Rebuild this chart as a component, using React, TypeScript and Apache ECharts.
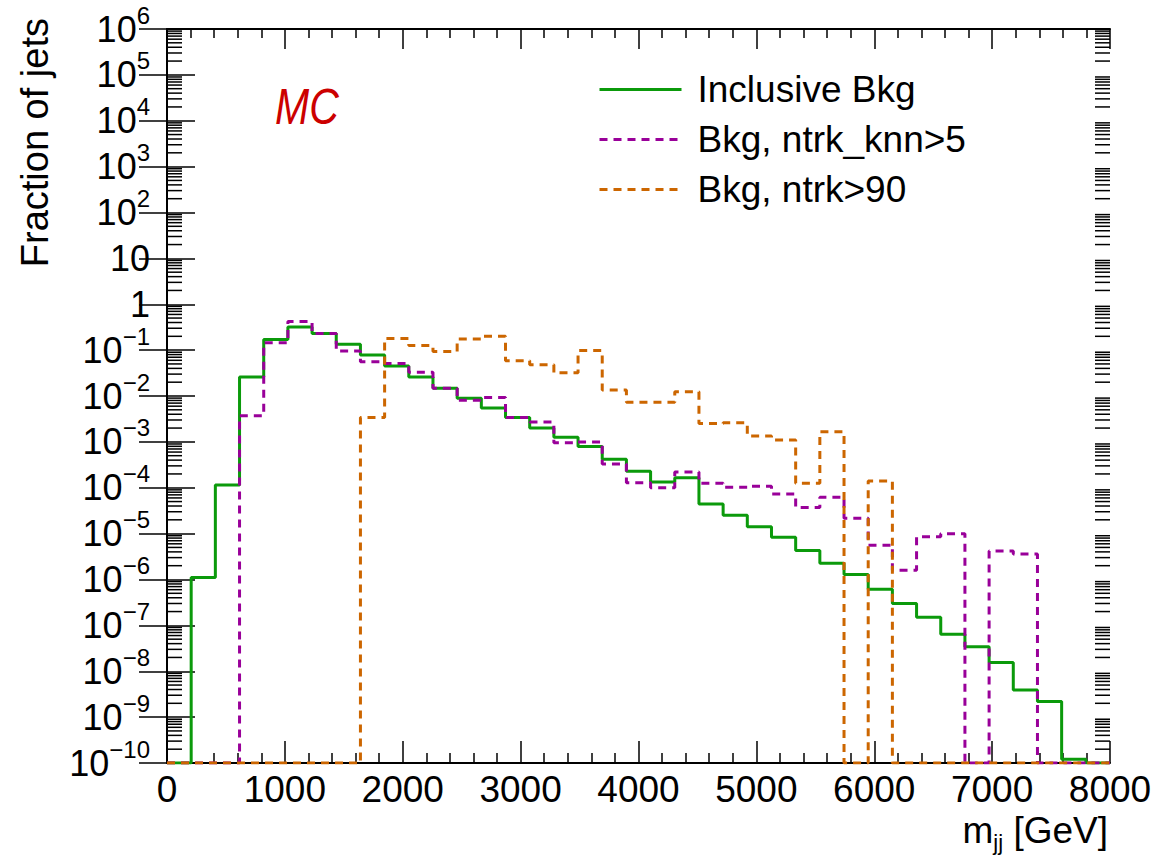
import React, { useEffect, useRef } from "react";
import * as echarts from "echarts";

// ---- axis ranges / binning ----
const X_MIN = 0;
const X_MAX = 8000;
const N_BINS = 39;
const Y_MIN = 1e-10;
const Y_MAX = 1e6;
const Y_EXP_MIN = -10;
const Y_EXP_MAX = 6;
const MINOR_MULTIPLIERS = [2, 3, 4, 5, 6, 7, 8, 9];

const SERIES_NAMES = ["Inclusive Bkg", "Bkg, ntrk_knn>5", "Bkg, ntrk>90"];
const SERIES_COLORS = ["#0b9a0b", "#990099", "#cc6600"];

// ---- bin contents (0 = empty bin) ----
const inclusiveBkg = [
  0, 1.1e-6, 1.15e-4, 0.026, 0.17, 0.32, 0.23, 0.135, 0.078, 0.045,
  0.026, 0.0148, 0.0089, 0.0055, 0.0034, 0.002, 0.00126, 7.9e-4, 4.2e-4, 2.3e-4,
  1.33e-4, 1.65e-4, 4.4e-5, 2.5e-5, 1.41e-5, 8.3e-6, 4.3e-6, 2.25e-6, 1.29e-6, 6.1e-7,
  3.0e-7, 1.5e-7, 6.4e-8, 3.4e-8, 1.55e-8, 3.9e-9, 2.2e-9, 1.2e-10, 0,
];
const knnBkg = [
  0, 0, 0, 0.0037, 0.145, 0.42, 0.23, 0.096, 0.056, 0.051,
  0.033, 0.0148, 0.0081, 0.0093, 0.0034, 0.0027, 9.6e-4, 1.0e-3, 3.3e-4, 1.29e-4,
  1.0e-4, 2.2e-4, 1.26e-4, 1.02e-4, 1.08e-4, 7.3e-5, 3.7e-5, 6.2e-5, 2.15e-5, 5.6e-6,
  1.6e-6, 8.6e-6, 1.0e-5, 0, 4.2e-6, 3.6e-6, 0, 0, 0,
];
const ntrkBkg = [
  0, 0, 0, 0, 0, 0, 0, 0, 0.0034, 0.18,
  0.126, 0.093, 0.174, 0.2, 0.059, 0.048, 0.032, 0.098, 0.0135, 0.0073,
  0.0073, 0.0124, 0.0025, 0.0026, 0.00135, 0.0011, 1.26e-4, 1.67e-3, 0, 1.4e-4,
  0, 0, 0, 0, 0, 0, 0, 0, 0,
];

const FONT = "'Liberation Sans', Arial, Helvetica, sans-serif";

function histPoints(values: number[]) {
  const w = (X_MAX - X_MIN) / N_BINS;
  const pts: [number, number][] = values.map((v, i) => [X_MIN + i * w, v > 0 ? v : Y_MIN]);
  const last = values[values.length - 1];
  pts.push([X_MAX, last > 0 ? last : Y_MIN]);
  return pts;
}

function minorTickValues() {
  const out: number[] = [];
  for (let e = Y_EXP_MIN; e < Y_EXP_MAX; e++) {
    for (const k of MINOR_MULTIPLIERS) out.push(k * Math.pow(10, e));
  }
  return out;
}

function yLabel(v: number) {
  const e = Math.round(Math.log10(v));
  if (e === 0) return "{b|1}";
  if (e === 1) return "{b|10}";
  return `{b|10}{s|${e < 0 ? "\u2212" : ""}${Math.abs(e)}}`;
}

export default function App() {
  const ref = useRef<HTMLDivElement>(null);
  useEffect(() => {
    if (!ref.current) return;
    const chart = echarts.init(ref.current, undefined, { renderer: "svg" });
    const data = [inclusiveBkg, knnBkg, ntrkBkg];
    const lineTypes: any[] = ["solid", [8, 6], [8, 6]];
    const axisLineStyle = { color: "#000", width: 2 };
    const tickStyle = { color: "#000", width: 1.5 };

    const option: any = {
      animation: false,
      backgroundColor: "#fff",
      textStyle: { fontFamily: FONT },
      grid: { left: 167, right: 45, top: 29, bottom: 95 },
      legend: {
        data: SERIES_NAMES,
        orient: "vertical",
        left: 593,
        top: 66,
        padding: 5,
        itemWidth: 82,
        itemHeight: 6,
        itemGap: 13,
        itemStyle: { opacity: 0 },
        lineStyle: { width: 3 },
        textStyle: { fontSize: 37, color: "#000", fontFamily: FONT, padding: [0, 0, 0, 11] },
      },
      xAxis: [
        {
          type: "value",
          min: X_MIN,
          max: X_MAX,
          interval: 1000,
          position: "bottom",
          axisLine: { show: true, lineStyle: axisLineStyle },
          axisTick: { show: true, inside: true, length: 22, lineStyle: tickStyle },
          minorTick: { show: true, splitNumber: 5, length: 10, lineStyle: tickStyle },
          splitLine: { show: false },
          axisLabel: {
            fontSize: 37,
            color: "#000",
            margin: 8,
            fontFamily: FONT,
            formatter: (v: number) => String(v),
          },
        },
        {
          type: "value",
          min: X_MIN,
          max: X_MAX,
          interval: 1000,
          position: "top",
          axisLine: { show: true, lineStyle: axisLineStyle },
          axisTick: { show: true, inside: true, length: 20, lineStyle: tickStyle },
          minorTick: { show: true, splitNumber: 5, length: 9, lineStyle: tickStyle },
          splitLine: { show: false },
          axisLabel: { show: false },
        },
      ],
      yAxis: [
        {
          type: "log",
          logBase: 10,
          min: Y_MIN,
          max: Y_MAX,
          interval: 1,
          splitNumber: 16,
          position: "left",
          axisLine: { show: true, lineStyle: axisLineStyle },
          axisTick: { show: true, inside: true, length: 28, lineStyle: tickStyle },
          splitLine: { show: false },
          axisLabel: {
            margin: 17,
            formatter: yLabel,
            rich: {
              b: { fontSize: 36, lineHeight: 52, color: "#000", fontFamily: FONT },
              s: { fontSize: 24, lineHeight: 24, verticalAlign: "top", color: "#000", fontFamily: FONT },
            },
          },
        },
        {
          type: "log",
          logBase: 10,
          min: Y_MIN,
          max: Y_MAX,
          interval: 1,
          splitNumber: 16,
          position: "right",
          axisLine: { show: true, lineStyle: axisLineStyle },
          axisTick: { show: true, inside: true, length: 28, lineStyle: tickStyle },
          splitLine: { show: false },
          axisLabel: { show: false },
        },
      ],
      series: [
        {
          type: "custom",
          silent: true,
          clip: false,
          xAxisIndex: 0,
          yAxisIndex: 0,
          data: minorTickValues().map((v) => [X_MIN, v]),
          renderItem: (_params: any, api: any) => {
            const v = api.value(1);
            const l = api.coord([X_MIN, v]);
            const r = api.coord([X_MAX, v]);
            return {
              type: "group",
              children: [
                { type: "line", shape: { x1: l[0], y1: l[1], x2: l[0] + 15, y2: l[1] }, style: { stroke: "#000", lineWidth: 1.5 } },
                { type: "line", shape: { x1: r[0] - 15, y1: r[1], x2: r[0], y2: r[1] }, style: { stroke: "#000", lineWidth: 1.5 } },
              ],
            };
          },
        },
        ...SERIES_NAMES.map((name, i) => ({
          name,
          type: "line",
          step: "end",
          symbol: "none",
          xAxisIndex: 0,
          yAxisIndex: 0,
          data: histPoints(data[i]),
          lineStyle: { color: SERIES_COLORS[i], width: 3, type: lineTypes[i] },
          itemStyle: { color: SERIES_COLORS[i] },
          z: 3 + i,
        })),
      ],
      graphic: [
        {
          type: "text",
          x: 35,
          y: 18,
          rotation: Math.PI / 2,
          style: {
            text: "Fraction of jets",
            fontSize: 38,
            fontFamily: FONT,
            fill: "#000",
            align: "right",
            verticalAlign: "middle",
          },
        },
        {
          type: "text",
          x: 1108,
          y: 830,
          style: {
            text: "{a|m}{b|jj}{a| [GeV]}",
            align: "right",
            verticalAlign: "middle",
            fill: "#000",
            rich: {
              a: { fontSize: 37, lineHeight: 46, fontFamily: FONT, fill: "#000" },
              b: { fontSize: 22, lineHeight: 22, verticalAlign: "bottom", fontFamily: FONT, fill: "#000" },
            },
          },
        },
        {
          type: "text",
          x: 275,
          y: 107,
          scaleX: 0.82,
          style: {
            text: "MC",
            fontSize: 50,
            fontStyle: "italic",
            fontFamily: FONT,
            fill: "#cc0000",
            align: "left",
            verticalAlign: "middle",
          },
        },
      ],
    };
    chart.setOption(option);
    return () => chart.dispose();
  }, []);
  return (
    <div
      ref={ref}
      style={{ position: "fixed", left: 0, top: 0, width: 1155, height: 858, background: "#fff" }}
    />
  );
}
